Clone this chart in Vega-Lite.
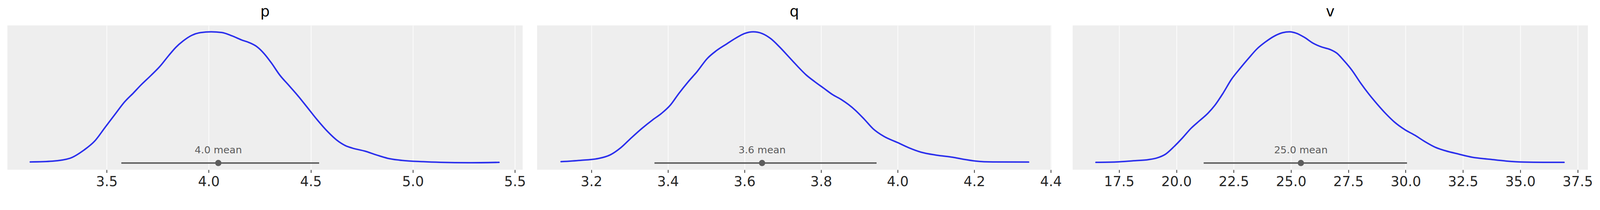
{
  "$schema": "https://vega.github.io/schema/vega-lite/v6.json",
  "padding": {"left": 19, "top": 12, "right": 0, "bottom": 0},
  "background": "white",
  "datasets": {
    "dens": [
      {"var": "p", "x": 3.126, "y": 0.003}, {"var": "p", "x": 3.234, "y": 0.009}, {"var": "p", "x": 3.32, "y": 0.031},
      {"var": "p", "x": 3.389, "y": 0.094}, {"var": "p", "x": 3.441, "y": 0.162}, {"var": "p", "x": 3.493, "y": 0.269},
      {"var": "p", "x": 3.545, "y": 0.376}, {"var": "p", "x": 3.588, "y": 0.463}, {"var": "p", "x": 3.631, "y": 0.531},
      {"var": "p", "x": 3.666, "y": 0.589}, {"var": "p", "x": 3.718, "y": 0.667}, {"var": "p", "x": 3.761, "y": 0.735},
      {"var": "p", "x": 3.804, "y": 0.818}, {"var": "p", "x": 3.839, "y": 0.881}, {"var": "p", "x": 3.874, "y": 0.929},
      {"var": "p", "x": 3.917, "y": 0.973}, {"var": "p", "x": 3.96, "y": 0.994}, {"var": "p", "x": 4.012, "y": 1.0},
      {"var": "p", "x": 4.064, "y": 0.995}, {"var": "p", "x": 4.116, "y": 0.968}, {"var": "p", "x": 4.159, "y": 0.939},
      {"var": "p", "x": 4.202, "y": 0.915}, {"var": "p", "x": 4.237, "y": 0.885}, {"var": "p", "x": 4.272, "y": 0.832},
      {"var": "p", "x": 4.306, "y": 0.764}, {"var": "p", "x": 4.349, "y": 0.667}, {"var": "p", "x": 4.393, "y": 0.589},
      {"var": "p", "x": 4.436, "y": 0.512}, {"var": "p", "x": 4.479, "y": 0.429}, {"var": "p", "x": 4.531, "y": 0.327},
      {"var": "p", "x": 4.583, "y": 0.235}, {"var": "p", "x": 4.626, "y": 0.172}, {"var": "p", "x": 4.67, "y": 0.128},
      {"var": "p", "x": 4.704, "y": 0.109}, {"var": "p", "x": 4.765, "y": 0.086}, {"var": "p", "x": 4.825, "y": 0.055},
      {"var": "p", "x": 4.877, "y": 0.031}, {"var": "p", "x": 4.946, "y": 0.015}, {"var": "p", "x": 5.05, "y": 0.005},
      {"var": "p", "x": 5.137, "y": 0.0}, {"var": "p", "x": 5.275, "y": -0.003}, {"var": "p", "x": 5.422, "y": 0.0},
      {"var": "q", "x": 3.121, "y": 0.005}, {"var": "q", "x": 3.171, "y": 0.015}, {"var": "q", "x": 3.218, "y": 0.029},
      {"var": "q", "x": 3.25, "y": 0.058}, {"var": "q", "x": 3.277, "y": 0.112}, {"var": "q", "x": 3.305, "y": 0.189},
      {"var": "q", "x": 3.333, "y": 0.262}, {"var": "q", "x": 3.36, "y": 0.325}, {"var": "q", "x": 3.383, "y": 0.374},
      {"var": "q", "x": 3.406, "y": 0.437}, {"var": "q", "x": 3.429, "y": 0.529}, {"var": "q", "x": 3.453, "y": 0.617},
      {"var": "q", "x": 3.476, "y": 0.694}, {"var": "q", "x": 3.503, "y": 0.796}, {"var": "q", "x": 3.526, "y": 0.854},
      {"var": "q", "x": 3.554, "y": 0.908}, {"var": "q", "x": 3.577, "y": 0.951}, {"var": "q", "x": 3.6, "y": 0.987},
      {"var": "q", "x": 3.623, "y": 1.0}, {"var": "q", "x": 3.646, "y": 0.987}, {"var": "q", "x": 3.669, "y": 0.947},
      {"var": "q", "x": 3.692, "y": 0.883}, {"var": "q", "x": 3.715, "y": 0.811}, {"var": "q", "x": 3.738, "y": 0.738},
      {"var": "q", "x": 3.761, "y": 0.67}, {"var": "q", "x": 3.784, "y": 0.617}, {"var": "q", "x": 3.807, "y": 0.568},
      {"var": "q", "x": 3.83, "y": 0.519}, {"var": "q", "x": 3.853, "y": 0.481}, {"var": "q", "x": 3.872, "y": 0.442},
      {"var": "q", "x": 3.89, "y": 0.398}, {"var": "q", "x": 3.913, "y": 0.33}, {"var": "q", "x": 3.936, "y": 0.257},
      {"var": "q", "x": 3.964, "y": 0.199}, {"var": "q", "x": 4.001, "y": 0.15}, {"var": "q", "x": 4.029, "y": 0.112},
      {"var": "q", "x": 4.061, "y": 0.078}, {"var": "q", "x": 4.102, "y": 0.055}, {"var": "q", "x": 4.144, "y": 0.039},
      {"var": "q", "x": 4.171, "y": 0.024}, {"var": "q", "x": 4.204, "y": 0.01}, {"var": "q", "x": 4.25, "y": 0.003},
      {"var": "q", "x": 4.342, "y": 0.002},
      {"var": "v", "x": 16.49, "y": 0.0}, {"var": "v", "x": 17.38, "y": 0.003}, {"var": "v", "x": 18.12, "y": 0.012},
      {"var": "v", "x": 18.79, "y": 0.021}, {"var": "v", "x": 19.16, "y": 0.034}, {"var": "v", "x": 19.53, "y": 0.063},
      {"var": "v", "x": 19.9, "y": 0.121}, {"var": "v", "x": 20.27, "y": 0.188}, {"var": "v", "x": 20.64, "y": 0.261},
      {"var": "v", "x": 21.01, "y": 0.319}, {"var": "v", "x": 21.38, "y": 0.377}, {"var": "v", "x": 21.67, "y": 0.435},
      {"var": "v", "x": 22.04, "y": 0.531}, {"var": "v", "x": 22.41, "y": 0.638}, {"var": "v", "x": 22.78, "y": 0.72},
      {"var": "v", "x": 23.15, "y": 0.797}, {"var": "v", "x": 23.52, "y": 0.87}, {"var": "v", "x": 23.89, "y": 0.923},
      {"var": "v", "x": 24.26, "y": 0.966}, {"var": "v", "x": 24.63, "y": 0.993}, {"var": "v", "x": 24.93, "y": 1.0},
      {"var": "v", "x": 25.22, "y": 0.99}, {"var": "v", "x": 25.59, "y": 0.957}, {"var": "v", "x": 25.96, "y": 0.913},
      {"var": "v", "x": 26.33, "y": 0.884}, {"var": "v", "x": 26.7, "y": 0.865}, {"var": "v", "x": 27.0, "y": 0.836},
      {"var": "v", "x": 27.29, "y": 0.783}, {"var": "v", "x": 27.66, "y": 0.705}, {"var": "v", "x": 28.03, "y": 0.609},
      {"var": "v", "x": 28.4, "y": 0.522}, {"var": "v", "x": 28.77, "y": 0.444}, {"var": "v", "x": 29.14, "y": 0.372},
      {"var": "v", "x": 29.51, "y": 0.309}, {"var": "v", "x": 29.96, "y": 0.251}, {"var": "v", "x": 30.4, "y": 0.208},
      {"var": "v", "x": 30.84, "y": 0.159}, {"var": "v", "x": 31.29, "y": 0.116}, {"var": "v", "x": 31.73, "y": 0.089},
      {"var": "v", "x": 32.32, "y": 0.063}, {"var": "v", "x": 32.91, "y": 0.039}, {"var": "v", "x": 33.65, "y": 0.024},
      {"var": "v", "x": 34.39, "y": 0.01}, {"var": "v", "x": 35.13, "y": 0.002}, {"var": "v", "x": 36.02, "y": 0.0},
      {"var": "v", "x": 36.91, "y": 0.0}
    ],
    "stats": [
      {"var": "p", "lo": 3.572, "hi": 4.541, "mean": 4.047, "label": "4.0 mean"},
      {"var": "q", "lo": 3.365, "hi": 3.945, "mean": 3.646, "label": "3.6 mean"},
      {"var": "v", "lo": 21.19, "hi": 30.06, "mean": 25.43, "label": "25.0 mean"}
    ]
  },
  "bounds": "flush",
  "spacing": 0,
  "hconcat": [
    {
      "width": 1319,
      "height": 369,
      "title": {"text": "p"},
      "layer": [
        {
          "data": {"name": "dens"},
          "transform": [{"filter": "datum.var == 'p'"}],
          "mark": {"type": "line", "color": "#2a2eec", "strokeWidth": 3.8, "strokeCap": "round", "interpolate": "monotone"},
          "encoding": {
            "x": {"field": "x", "type": "quantitative", "title": null,
              "scale": {"domain": [3.014, 5.538], "nice": false, "zero": false},
              "axis": {"values": [3.5, 4.0, 4.5, 5.0, 5.5], "format": ".1f"}},
            "y": {"field": "y", "type": "quantitative", "axis": null,
              "scale": {"domain": [-0.0565, 1.049], "nice": false}}
          }
        },
        {
          "data": {"name": "stats"},
          "transform": [{"filter": "datum.var == 'p'"}],
          "mark": {"type": "rule", "color": "#5c5c5c", "strokeWidth": 3.8},
          "encoding": {
            "x": {"field": "lo", "type": "quantitative", "title": null},
            "x2": {"field": "hi"},
            "y": {"datum": -0.005}
          }
        },
        {
          "data": {"name": "stats"},
          "transform": [{"filter": "datum.var == 'p'"}],
          "mark": {"type": "point", "filled": true, "color": "#5c5c5c", "size": 258, "opacity": 1},
          "encoding": {
            "x": {"field": "mean", "type": "quantitative", "title": null},
            "y": {"datum": -0.005}
          }
        },
        {
          "data": {"name": "stats"},
          "transform": [{"filter": "datum.var == 'p'"}],
          "mark": {"type": "text", "color": "#5c5c5c", "fontSize": 25.5, "baseline": "alphabetic", "align": "center"},
          "encoding": {
            "x": {"field": "mean", "type": "quantitative", "title": null},
            "y": {"datum": 0.07},
            "text": {"field": "label"}
          }
        }
      ]
    },
    {
      "width": 37,
      "height": 369,
      "view": {"fill": null, "stroke": null},
      "data": {"values": [{"s": 0}]},
      "mark": {"type": "point", "opacity": 0},
      "encoding": {}
    },
    {
      "width": 1317,
      "height": 369,
      "title": {"text": "q"},
      "layer": [
        {
          "data": {"name": "dens"},
          "transform": [{"filter": "datum.var == 'q'"}],
          "mark": {"type": "line", "color": "#2a2eec", "strokeWidth": 3.8, "strokeCap": "round", "interpolate": "monotone"},
          "encoding": {
            "x": {"field": "x", "type": "quantitative", "title": null,
              "scale": {"domain": [3.0585, 4.402], "nice": false, "zero": false},
              "axis": {"values": [3.2, 3.4, 3.6, 3.8, 4.0, 4.2, 4.4], "format": ".1f"}},
            "y": {"field": "y", "type": "quantitative", "axis": null,
              "scale": {"domain": [-0.0565, 1.049], "nice": false}}
          }
        },
        {
          "data": {"name": "stats"},
          "transform": [{"filter": "datum.var == 'q'"}],
          "mark": {"type": "rule", "color": "#5c5c5c", "strokeWidth": 3.8},
          "encoding": {
            "x": {"field": "lo", "type": "quantitative", "title": null},
            "x2": {"field": "hi"},
            "y": {"datum": -0.005}
          }
        },
        {
          "data": {"name": "stats"},
          "transform": [{"filter": "datum.var == 'q'"}],
          "mark": {"type": "point", "filled": true, "color": "#5c5c5c", "size": 258, "opacity": 1},
          "encoding": {
            "x": {"field": "mean", "type": "quantitative", "title": null},
            "y": {"datum": -0.005}
          }
        },
        {
          "data": {"name": "stats"},
          "transform": [{"filter": "datum.var == 'q'"}],
          "mark": {"type": "text", "color": "#5c5c5c", "fontSize": 25.5, "baseline": "alphabetic", "align": "center"},
          "encoding": {
            "x": {"field": "mean", "type": "quantitative", "title": null},
            "y": {"datum": 0.07},
            "text": {"field": "label"}
          }
        }
      ]
    },
    {
      "width": 54,
      "height": 369,
      "view": {"fill": null, "stroke": null},
      "data": {"values": [{"s": 0}]},
      "mark": {"type": "point", "opacity": 0},
      "encoding": {}
    },
    {
      "width": 1319,
      "height": 369,
      "title": {"text": "v"},
      "layer": [
        {
          "data": {"name": "dens"},
          "transform": [{"filter": "datum.var == 'v'"}],
          "mark": {"type": "line", "color": "#2a2eec", "strokeWidth": 3.8, "strokeCap": "round", "interpolate": "monotone"},
          "encoding": {
            "x": {"field": "x", "type": "quantitative", "title": null,
              "scale": {"domain": [15.475, 37.95], "nice": false, "zero": false},
              "axis": {"values": [17.5, 20, 22.5, 25, 27.5, 30, 32.5, 35, 37.5], "format": ".1f"}},
            "y": {"field": "y", "type": "quantitative", "axis": null,
              "scale": {"domain": [-0.0565, 1.049], "nice": false}}
          }
        },
        {
          "data": {"name": "stats"},
          "transform": [{"filter": "datum.var == 'v'"}],
          "mark": {"type": "rule", "color": "#5c5c5c", "strokeWidth": 3.8},
          "encoding": {
            "x": {"field": "lo", "type": "quantitative", "title": null},
            "x2": {"field": "hi"},
            "y": {"datum": -0.005}
          }
        },
        {
          "data": {"name": "stats"},
          "transform": [{"filter": "datum.var == 'v'"}],
          "mark": {"type": "point", "filled": true, "color": "#5c5c5c", "size": 258, "opacity": 1},
          "encoding": {
            "x": {"field": "mean", "type": "quantitative", "title": null},
            "y": {"datum": -0.005}
          }
        },
        {
          "data": {"name": "stats"},
          "transform": [{"filter": "datum.var == 'v'"}],
          "mark": {"type": "text", "color": "#5c5c5c", "fontSize": 25.5, "baseline": "alphabetic", "align": "center"},
          "encoding": {
            "x": {"field": "mean", "type": "quantitative", "title": null},
            "y": {"datum": 0.07},
            "text": {"field": "label"}
          }
        }
      ]
    }
  ],
  "config": {
    "font": "DejaVu Sans",
    "view": {"fill": "#eeeeee", "stroke": null},
    "title": {"fontSize": 37.7, "fontWeight": "normal", "color": "#000000", "font": "DejaVu Sans", "baseline": "alphabetic", "offset": 15, "anchor": "middle"},
    "axisX": {
      "grid": true, "gridColor": "#ffffff", "gridWidth": 1.6, "gridOpacity": 1,
      "domain": false, "ticks": true, "tickColor": "#262626", "tickSize": 7.5, "tickWidth": 1.9,
      "labelFont": "DejaVu Sans", "labelFontSize": 35, "labelColor": "#262626", "labelPadding": 5.7,
      "labelFlush": false, "labelOverlap": false
    }
  }
}
